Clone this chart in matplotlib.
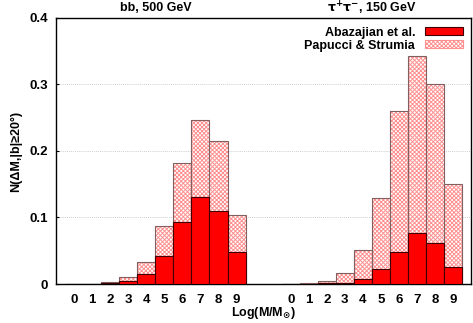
import numpy as np
import matplotlib
matplotlib.use("Agg")
import matplotlib.pyplot as plt
from matplotlib.patches import Patch

plt.rcParams['font.family'] = ['Liberation Sans', 'DejaVu Sans']
plt.rcParams['font.weight'] = 'bold'
plt.rcParams['hatch.linewidth'] = 0.7
plt.rcParams['mathtext.default'] = 'bf'

log_mass = [0, 1, 2, 3, 4, 5, 6, 7, 8, 9]
tick_labels = [str(m) for m in log_mass] * 2

# bb, 500 GeV
bb_abazajian = [0.0, 0.0003, 0.001, 0.0045, 0.0145, 0.0415, 0.0925, 0.1315, 0.109, 0.048]
bb_papucci = [0.0, 0.0005, 0.0035, 0.0105, 0.0335, 0.0875, 0.1815, 0.2465, 0.2145, 0.103]

# tau tau, 150 GeV
tau_abazajian = [0.0, 0.0003, 0.001, 0.002, 0.007, 0.022, 0.0475, 0.076, 0.062, 0.025]
tau_papucci = [0.0, 0.0015, 0.005, 0.017, 0.0505, 0.13, 0.26, 0.342, 0.300, 0.1505]

x_bb = np.array(log_mass)
x_tau = np.array(log_mass) + 12
x_all = np.concatenate([x_bb, x_tau])
abaz = bb_abazajian + tau_abazajian
papu = bb_papucci + tau_papucci

fig = plt.figure(figsize=(4.73, 3.23), dpi=100)
ax = fig.add_axes([0.1184, 0.1207, 0.878, 0.824])

hatch_col = '#ff9090'
# hatched (Papucci & Strumia)
ax.bar(x_all, papu, width=1.0, color='white', edgecolor=hatch_col, hatch='xxxxxxxx', linewidth=0, zorder=2)
ax.bar(x_all, papu, width=1.0, fill=False, edgecolor='#806060', linewidth=0.8, zorder=3)
# solid (Abazajian et al.)
ax.bar(x_all, abaz, width=1.0, color='#ff0000', edgecolor='#400000', linewidth=0.8, zorder=4)

ax.set_xlim(-1, 22)
ax.set_ylim(0, 0.4)
ax.set_xticks(x_all)
ax.set_xticklabels(tick_labels, fontweight='bold')
ax.set_yticks([0, 0.1, 0.2, 0.3, 0.4])
ax.set_yticklabels(['0', '0.1', '0.2', '0.3', '0.4'], fontweight='bold')
ax.tick_params(axis='x', length=0, labelsize=9.5, pad=7)
ax.tick_params(axis='y', length=2, direction='in', labelsize=9.5, pad=6)
ax.yaxis.grid(True, color='#bbbbbb', linestyle=(0, (1, 1.5)), linewidth=0.6)
ax.set_axisbelow(True)
for s in ax.spines.values():
    s.set_linewidth(1.0)

ax.set_ylabel('N(ΔM,|b|≥20°)', fontsize=9, fontweight='bold', labelpad=5)
ax.text(10.5, -0.044, r'Log(M/M$_{\odot}$)', ha='center', va='center', fontsize=9,
        fontweight='bold', clip_on=False)

ax.text(4.5, 0.415, 'bb, 500 GeV', ha='center', va='center', fontsize=9, fontweight='bold', clip_on=False)
ax.text(16.5, 0.415, r'$\mathrm{\tau^{+}\tau^{-}}$, 150 GeV', ha='center', va='center',
        fontsize=9, fontweight='bold', clip_on=False)

handles = [Patch(facecolor='#ff0000', edgecolor='#400000', linewidth=0.8),
           Patch(facecolor='white', edgecolor=hatch_col, hatch='xxxxxxxx', linewidth=0.8)]
leg = ax.legend(handles, ['Abazajian et al.', 'Papucci & Strumia'], loc='upper right',
                frameon=False, markerfirst=False, handlelength=3.0,
                handleheight=0.6, labelspacing=0.1, borderaxespad=0.3, handletextpad=0.8,
                prop={'size': 9, 'weight': 'bold'})

fig.savefig('out.png', dpi=100)
